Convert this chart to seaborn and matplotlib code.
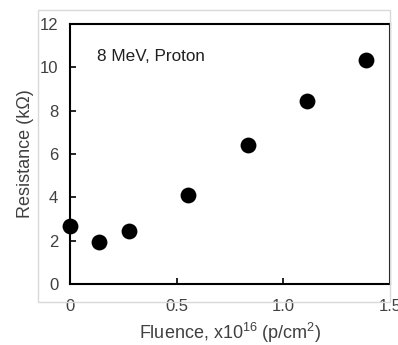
import numpy as np
import pandas as pd
import seaborn as sns
import matplotlib.pyplot as plt
from matplotlib.patches import Rectangle
from matplotlib.ticker import MultipleLocator

# fluence (x1e16 p/cm^2) and resistance (kOhm)
fluence = [0.0, 0.136, 0.277, 0.555, 0.836, 1.11, 1.386]
resistance = [2.7, 1.95, 2.45, 4.12, 6.42, 8.45, 10.32]

df = pd.DataFrame({"Fluence": fluence, "Resistance": resistance})

sns.set_style("white")
plt.rcParams["font.family"] = ["Liberation Sans", "DejaVu Sans"]
plt.rcParams["mathtext.fontset"] = "custom"
plt.rcParams["mathtext.rm"] = "Liberation Sans"

fig = plt.figure(figsize=(3.98, 3.45), dpi=100)
ax = fig.add_axes([70 / 398, 1 - 284 / 345, 320 / 398, 260 / 345])

# light grey chart-area border
fig.patches.append(
    Rectangle((38 / 398, 1 - 302 / 345), 352 / 398, 292 / 345,
              transform=fig.transFigure, fill=False, edgecolor="#d9d9d9",
              linewidth=1.0, zorder=0)
)

sns.scatterplot(data=df, x="Fluence", y="Resistance", ax=ax, s=130,
                color="black", edgecolor="black", linewidth=0, clip_on=False,
                zorder=5)

ax.set_xlim(0, 1.5)
ax.set_ylim(0, 12)
ax.set_xticks([0, 0.5, 1.0, 1.5])
ax.set_xticklabels(["0", "0.5", "1.0", "1.5"])
ax.xaxis.set_minor_locator(MultipleLocator(0.1))
ax.set_yticks(range(0, 13, 2))

for s in ax.spines.values():
    s.set_color("black")
    s.set_linewidth(1.5)

ax.tick_params(axis="x", which="both", direction="in", length=4, width=1.2,
               pad=11, labelsize=12, colors="black", labelcolor="#404040")
ax.tick_params(axis="y", which="major", direction="in", length=4, width=1.2,
               pad=8.5, labelsize=12, colors="black", labelcolor="#404040")
ax.tick_params(axis="y", left=True)
ax.tick_params(axis="x", bottom=True)

ax.set_xlabel(r"Fluence, x10$^{16}$ (p/cm$^{2}$)", fontsize=13,
              color="#404040", labelpad=5)
ax.set_ylabel("Resistance (kΩ)", fontsize=13, color="#404040", labelpad=4)

ax.text(0.125, 10.5, "8 MeV, Proton", fontsize=12.3, color="#202020",
        va="center", ha="left")

fig.savefig("out.png", dpi=100)
